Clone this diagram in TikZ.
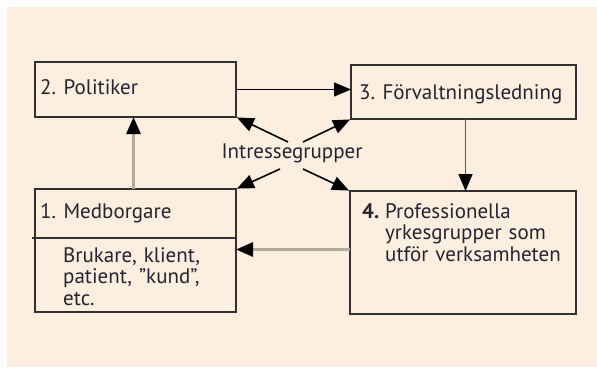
\documentclass[tikz,border=0pt]{standalone}
\usepackage{fontspec}
\setmainfont{PT Sans}
\usepackage{xcolor}
\usetikzlibrary{arrows.meta, positioning}

\definecolor{paper}{RGB}{252,239,224}
\definecolor{frame}{RGB}{50,48,48}
\definecolor{flow}{RGB}{178,170,155}
\definecolor{ink}{RGB}{38,34,48}

\begin{document}
\begin{tikzpicture}[x=1pt, y=1pt, node distance=0pt,
          box/.style = {draw=frame, line width=1.8pt, inner sep=0pt, outer sep=0pt},
          txt/.style = {text=ink, inner sep=0pt, anchor=base west,
                        font=\fontsize{21}{21.5}\selectfont},
          tipblack/.style = {-{Triangle[length=17pt, width=14pt, color=black]}},
          link/.style = {tipblack, line width=1.3pt, draw=black},
          linkdark/.style = {tipblack, line width=1.5pt, draw=black!65},
          linkgray/.style = {tipblack, line width=3pt, draw=flow} ]

\useasboundingbox (0,0) rectangle (597,-367);
\fill[white] (0,0) rectangle (597,-367);
\fill[paper] (7,-7) rectangle (597,-367);

% boxes
\node (pol)    [box, anchor=north west, minimum width=201pt, minimum height=55pt] at (35,-62) {};
\node (forv)   [box, anchor=north west, minimum width=225pt, minimum height=54pt] at (351,-65) {};
\node (med)    [box, anchor=north west, minimum width=201pt, minimum height=49pt] at (35,-189) {};
\node (medsub) [box, minimum width=201pt, minimum height=74pt, below=of med] {};
\node (prof)   [box, anchor=north west, minimum width=226pt, minimum height=123pt] at (350,-191) {};
\draw[frame, line width=1.8pt] ([xshift=-3pt]med.south west) -- (med.south west);

% texts
\node (poltxt)  [txt] at (40,-94)   {2. Politiker};
\node (forvtxt) [txt] at (359,-99)  {3. Förvaltningsledning};
\node (medtxt)  [txt] at (40,-218)  {1. Medborgare};
\node (subtxt)  [txt, text width=170pt, align=left] at (63,-262)
      {Brukare, klient,\\ patient, ”kund”,\\ etc.};
\node (profnum) [txt, font=\fontsize{21}{21.5}\selectfont\bfseries] at (362,-218) {4.};
\node (proftxt) [txt, text width=185pt, align=left] at (385,-218)
      {Professionella\\ yrkesgrupper som\\ utför verksamheten};
\node (intr)    [txt, anchor=base] at (292,-158) {Intressegrupper};

\coordinate (itl) at (288,-142);
\coordinate (itr) at (303,-142);
\coordinate (ibl) at (280,-169);
\coordinate (ibr) at (303,-169);

% connectors
\draw[link]     (pol.east) -- (pol.east -| forv.west);
\draw[linkdark] ([xshift=2pt]forv.south) -- ([xshift=2pt]forv.south |- prof.north);
\draw[linkgray] ([xshift=-2pt]med.north) -- ([xshift=-2pt]pol.south);
\draw[linkgray] ([yshift=3pt]prof.west) -- ([yshift=3pt]prof.west -| medsub.east);
\draw[link, line width=1.6pt, shorten >=1pt] (itl) -- (pol.south east);
\draw[link, line width=1.6pt, shorten >=1pt] (itr) -- (forv.south west);
\draw[link, line width=1.6pt, shorten >=1pt] (ibl) -- (med.north east);
\draw[link, line width=1.6pt, shorten >=1pt] (ibr) -- (prof.north west);
\end{tikzpicture}
\end{document}
